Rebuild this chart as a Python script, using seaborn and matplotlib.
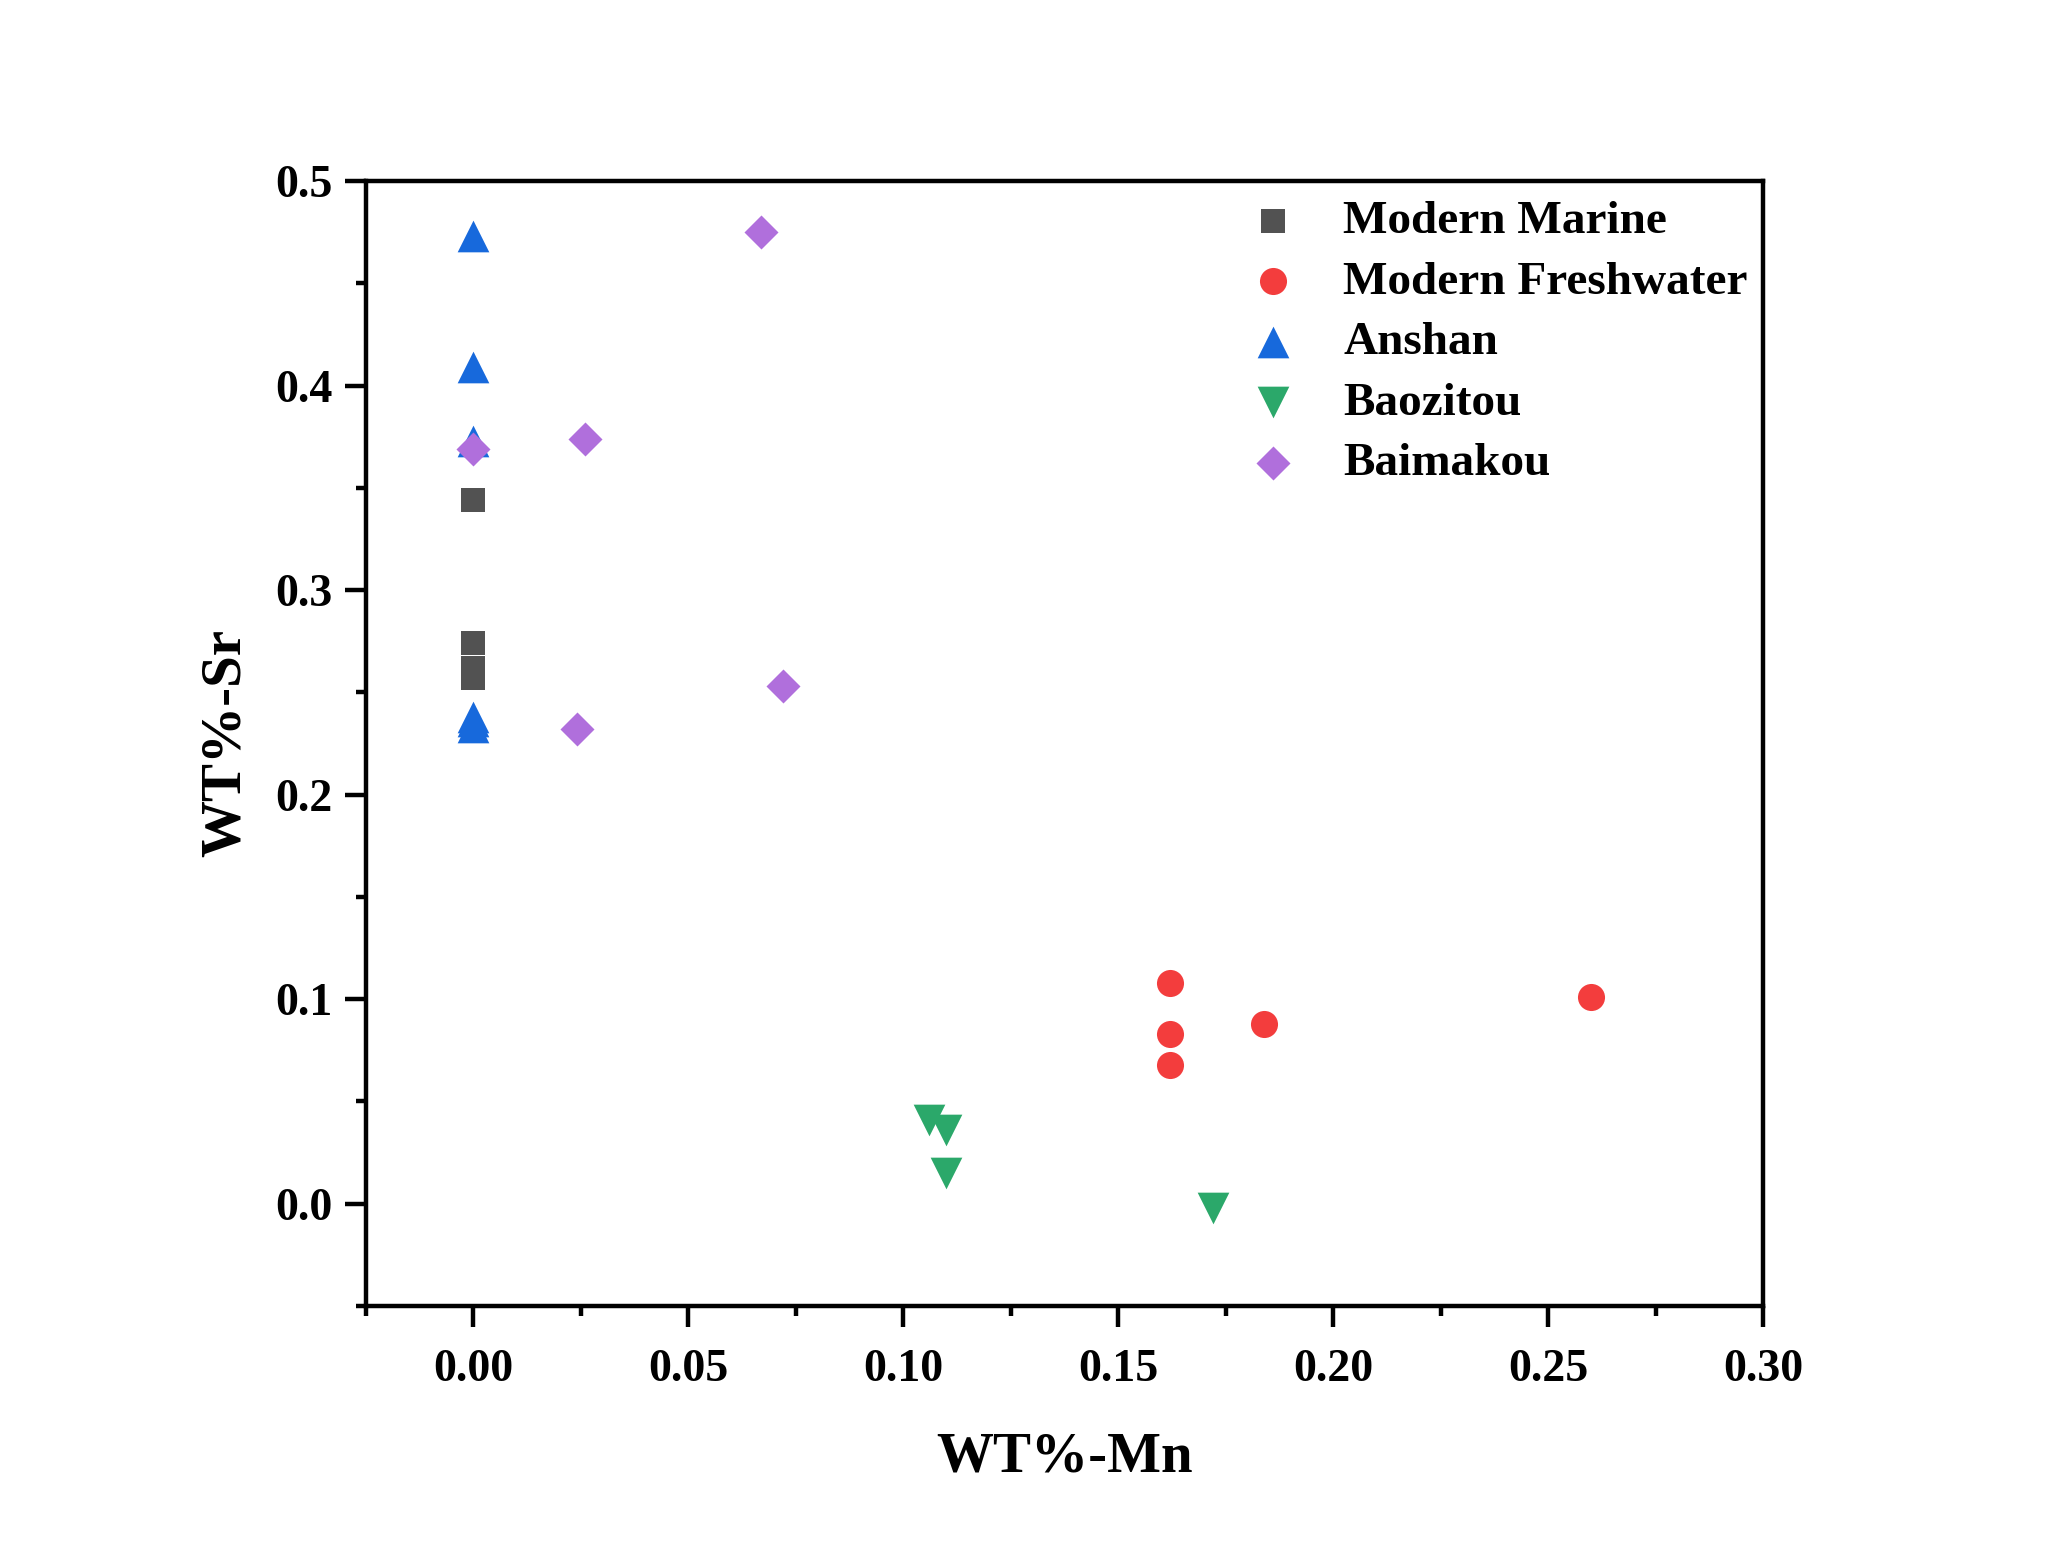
import matplotlib
matplotlib.use("Agg")
import matplotlib.pyplot as plt
import seaborn as sns
import pandas as pd
from matplotlib.ticker import MultipleLocator, FormatStrFormatter

# ---- data ----
marine_mn = [0.0, 0.0, 0.0, 0.0]
marine_sr = [0.344, 0.274, 0.262, 0.257]

fresh_mn = [0.162, 0.162, 0.162, 0.184, 0.260]
fresh_sr = [0.108, 0.083, 0.068, 0.088, 0.101]

anshan_mn = [0.0, 0.0, 0.0, 0.0, 0.0, 0.0]
anshan_sr = [0.473, 0.409, 0.373, 0.238, 0.236, 0.233]

baozitou_mn = [0.106, 0.110, 0.110, 0.172]
baozitou_sr = [0.041, 0.036, 0.015, -0.002]

baimakou_mn = [0.0, 0.026, 0.067, 0.072, 0.024]
baimakou_sr = [0.369, 0.374, 0.475, 0.253, 0.232]

group_names = ["Modern Marine", "Modern Freshwater", "Anshan", "Baozitou", "Baimakou"]
x_ticks = [0.00, 0.05, 0.10, 0.15, 0.20, 0.25, 0.30]
y_ticks = [0.0, 0.1, 0.2, 0.3, 0.4, 0.5]

# ---- style ----
sns.set_style("ticks")
plt.rcParams["font.family"] = ["Liberation Serif", "DejaVu Serif"]
plt.rcParams["font.weight"] = "bold"
plt.rcParams["axes.labelweight"] = "bold"
plt.rcParams["text.color"] = "black"
plt.rcParams["axes.labelcolor"] = "black"
plt.rcParams["xtick.color"] = "black"
plt.rcParams["ytick.color"] = "black"

fig = plt.figure(figsize=(20.48, 15.67), dpi=100)
ax = fig.add_axes([0.1787, 0.1666, 0.6822, 0.7179])

groups = [
    (marine_mn, marine_sr, "s", "#525252", 300),
    (fresh_mn, fresh_sr, "o", "#F33D3D", 380),
    (anshan_mn, anshan_sr, "^", "#1769DC", 520),
    (baozitou_mn, baozitou_sr, "v", "#2BA86A", 520),
    (baimakou_mn, baimakou_sr, "D", "#B06FDC", 300),
]

for name, (xs, ys, mk, col, s) in zip(group_names, groups):
    df = pd.DataFrame({"Mn": xs, "Sr": ys})
    sns.scatterplot(data=df, x="Mn", y="Sr", marker=mk, color=col, s=s,
                    linewidth=0, label=name, ax=ax, zorder=3)

ax.set_xlim(-0.025, 0.30)
ax.set_ylim(-0.05, 0.5)
ax.set_xticks(x_ticks)
ax.set_yticks(y_ticks)
ax.xaxis.set_minor_locator(MultipleLocator(0.025))
ax.yaxis.set_minor_locator(MultipleLocator(0.05))
ax.xaxis.set_major_formatter(FormatStrFormatter("%.2f"))
ax.yaxis.set_major_formatter(FormatStrFormatter("%.1f"))

for sp in ax.spines.values():
    sp.set_linewidth(3.2)
    sp.set_color("black")

ax.tick_params(axis="both", which="major", direction="out", length=15, width=3.2,
               labelsize=33, colors="black")
ax.tick_params(axis="both", which="minor", direction="out", length=7, width=3.2,
               colors="black")
ax.tick_params(axis="x", which="both", pad=16, top=False)
ax.tick_params(axis="y", which="both", pad=9, right=False)
for lab in ax.get_xticklabels() + ax.get_yticklabels():
    lab.set_fontweight("bold")
    lab.set_color("black")

ax.set_xlabel("WT%-Mn", fontsize=41, fontweight="bold", labelpad=29, color="black")
ax.set_ylabel("WT%-Sr", fontsize=41, fontweight="bold", labelpad=17, color="black")

leg = ax.legend(loc="upper left", bbox_to_anchor=(0.632, 0.983), frameon=False,
                fontsize=34, handlelength=1.0, handletextpad=1.0,
                labelspacing=0.37, borderpad=0, borderaxespad=0)
for t in leg.get_texts():
    t.set_fontweight("bold")
    t.set_color("black")

fig.savefig("out.png", dpi=100, facecolor="white")
